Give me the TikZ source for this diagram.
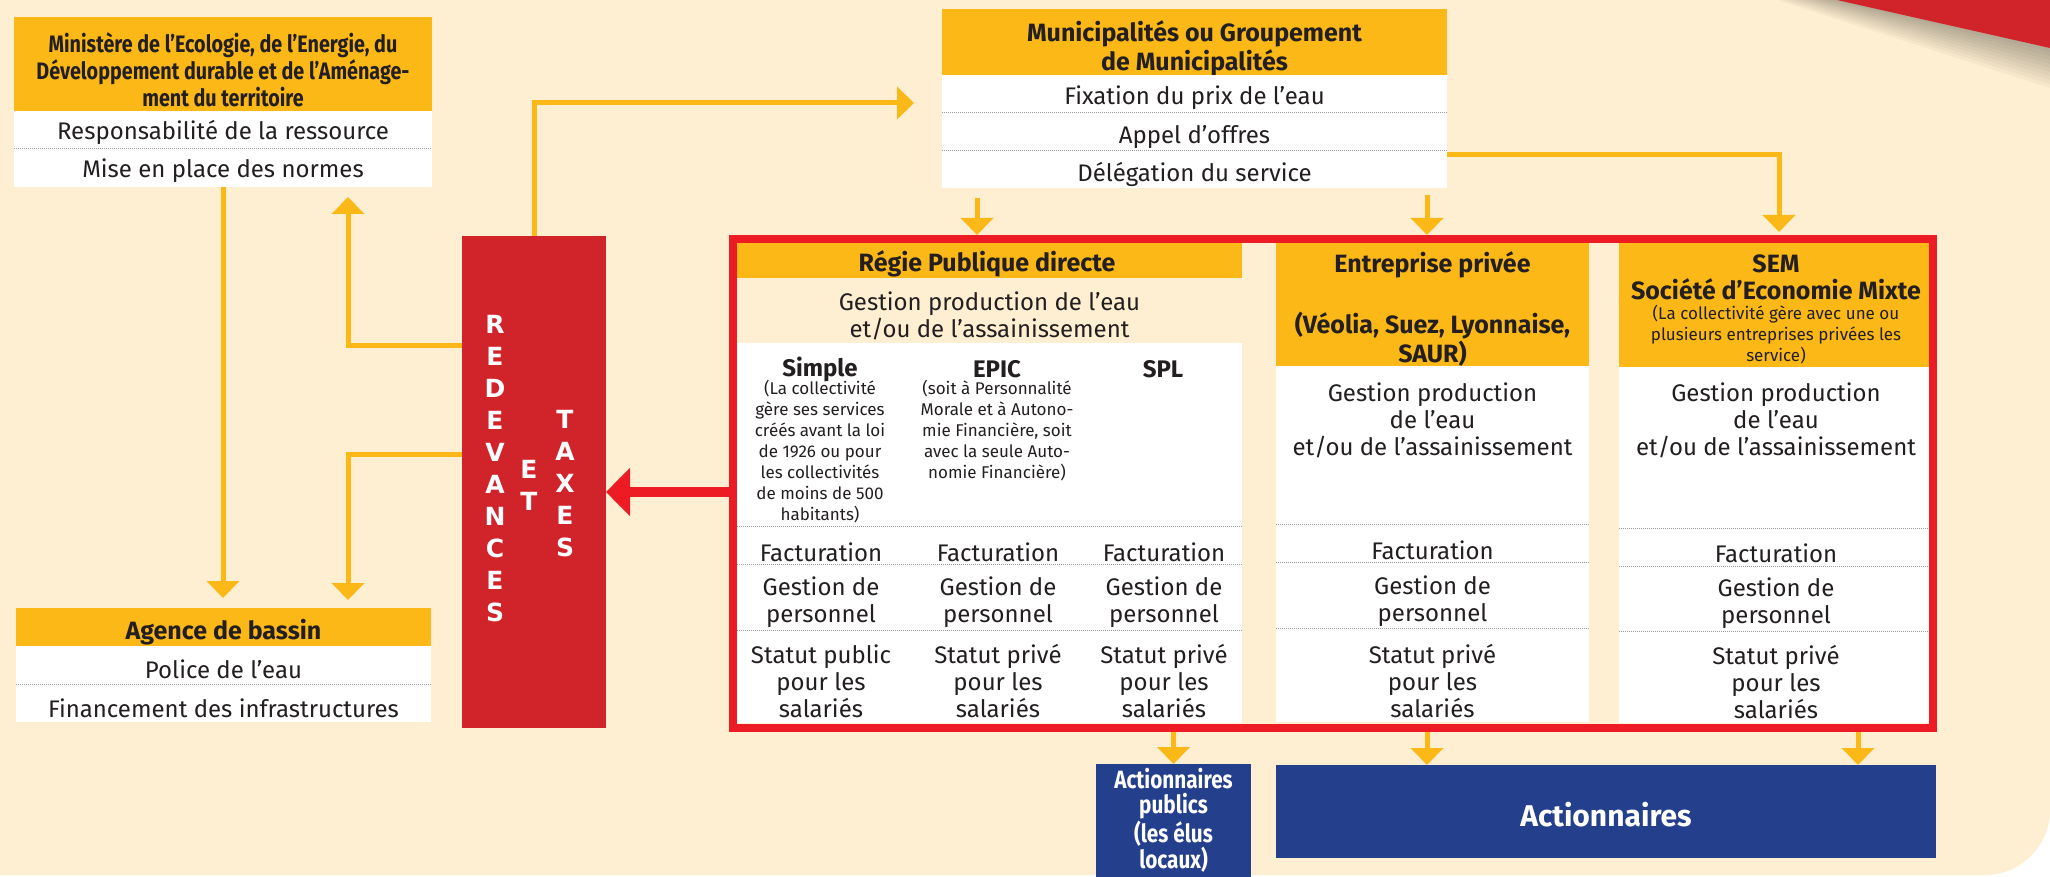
\documentclass[tikz,border=0pt]{standalone}
\usepackage{fontspec}
\setmainfont{Fira Sans}
\newfontfamily\cnd{Fira Sans}[FakeStretch=0.83]
\newfontfamily\dvs{DejaVu Sans}
\usetikzlibrary{arrows.meta}
\definecolor{bgc}{HTML}{FEEFD2}
\definecolor{org}{HTML}{FBB817}
\definecolor{redbox}{HTML}{D1232A}
\definecolor{rfr}{HTML}{ED1C24}
\definecolor{blu}{HTML}{243F8C}
\definecolor{txt}{HTML}{231F20}
\tikzset{
 obox/.style={fill=org, inner sep=0pt, outer sep=0pt},
 wbox/.style={fill=white, inner sep=0pt, outer sep=0pt},
 tx/.style={inner sep=0pt, outer sep=0pt, text=txt, align=center},
 hd/.style={tx, font=\bfseries\fontsize{12.5}{14.5}\selectfont},
 hdc/.style={tx, font=\cnd\bfseries\fontsize{11.9}{13.5}\selectfont},
 bd/.style={tx, font=\fontsize{12}{13.5}\selectfont},
 sm/.style={tx, font=\fontsize{8.5}{10.5}\selectfont},
 sep/.style={draw=gray!80, line width=0.5pt, dash pattern=on 0.5pt off 0.5pt},
 conn/.style={draw=org, line width=2.5pt, -{Triangle[length=8.5pt,width=16pt]}},
 bigarrow/.style={draw=rfr, line width=5pt, -{Triangle[length=12pt,width=23.5pt]}},
 letters/.style={inner sep=0pt, text=white, align=center, font=\dvs\bfseries\fontsize{12.5}{16}\selectfont},
 wt/.style={inner sep=0pt, text=white, align=center},
}
\begin{document}
\begin{tikzpicture}[x=0.5pt,y=-0.5pt]
\useasboundingbox (0,0) rectangle (2050,877);
\clip (0,0) rectangle (2050,877);
\fill[white] (0,0) rectangle (2050,877);
\fill[bgc, rounded corners=32.5pt] (-100,-100) rectangle (2050,875);
\foreach \k in {1,...,10}{\fill[black,opacity=0.03] (1837-6*\k,0) -- (2050,0) -- (2050,48+4*\k) -- cycle;}
\fill[redbox] (1837,0) -- (2050,0) -- (2050,48) -- cycle;

% Ministere
\node[obox, minimum width=209pt, minimum height=47pt] (minH) at (223,64) {};
\node[hdc] (minHt) at (223,70) {Ministère de l’Ecologie, de l’Energie, du\\Développement durable et de l’Aménage-\\ment du territoire};
\node[wbox, minimum width=209pt, minimum height=19pt] (minR1) at (223,130) {};
\node[wbox, minimum width=209pt, minimum height=19pt] (minR2) at (223,168) {};
\draw[sep] (minR1.south west) -- (minR1.south east);
\node[bd] (minR1t) at (223,132) {Responsabilité de la ressource};
\node[bd] (minR2t) at (223,171) {Mise en place des normes};

% Municipalites
\node[obox, minimum width=252.5pt, minimum height=33pt] (munH) at (1194.5,42) {};
\node[hd] (munHt) at (1194.5,48) {Municipalités ou Groupement\\de Municipalités};
\node[wbox, minimum width=252.5pt, minimum height=19pt] (munR1) at (1194.5,94) {};
\node[wbox, minimum width=252.5pt, minimum height=19pt] (munR2) at (1194.5,132) {};
\node[wbox, minimum width=252.5pt, minimum height=18.5pt] (munR3) at (1194.5,169.5) {};
\draw[sep] (munR1.south west) -- (munR1.south east);
\draw[sep] (munR2.south west) -- (munR2.south east);
\node[bd] (munR1t) at (1194.5,98) {Fixation du prix de l’eau};
\node[bd] (munR2t) at (1194.5,137) {Appel d’offres};
\node[bd] (munR3t) at (1194.5,174) {Délégation du service};

% Agence
\node[obox, minimum width=207.5pt, minimum height=19pt] (agH) at (223.5,627) {};
\node[hd] (agHt) at (223.5,632) {Agence de bassin};
\node[wbox, minimum width=207.5pt, minimum height=19pt] (agR1) at (223.5,665) {};
\node[wbox, minimum width=207.5pt, minimum height=19pt] (agR2) at (223.5,703) {};
\draw[sep] (agR1.south west) -- (agR1.south east);
\node[bd] (agR1t) at (223.5,669) {Police de l’eau};
\node[bd] (agR2t) at (223.5,708) {Financement des infrastructures};

% Redevances
\node[fill=redbox, inner sep=0pt, outer sep=0pt, minimum width=72pt, minimum height=246pt] (rbox) at (534,482) {};
\node[letters] (redev) at (495,469) {R\\E\\D\\E\\V\\A\\N\\C\\E\\S};
\node[letters] (et) at (529,485) {E\\T};
\node[letters] (taxes) at (565,484) {T\\A\\X\\E\\S};

% Regie
\node[obox, minimum width=252.5pt, minimum height=17.5pt] (regH) at (989.5,260.5) {};
\node[hd] (regHt) at (987,264) {Régie Publique directe};
\node[bd] (regG) at (989.5,316) {Gestion production de l’eau\\et/ou de l’assainissement};
\node[wbox, minimum width=252.5pt, minimum height=190pt] (regW) at (989.5,533) {};
\draw[sep] (regW.west |- 0,526) -- (regW.east |- 0,526);
\draw[sep] (regW.west |- 0,564) -- (regW.east |- 0,564);
\draw[sep] (regW.west |- 0,630) -- (regW.east |- 0,630);
\node[tx, font=\bfseries\fontsize{12}{14}\selectfont] (simple) at (820,369) {Simple};
\node[tx, font=\bfseries\fontsize{12}{14}\selectfont] (epic) at (997,369) {EPIC};
\node[tx, font=\bfseries\fontsize{12}{14}\selectfont] (spl) at (1163,369) {SPL};
\node[sm] (simplet) at (820,452) {(La collectivité\\gère ses services\\créés avant la loi\\de 1926 ou pour\\les collectivités\\de moins de 500\\habitants)};
\node[sm] (epict) at (997,431) {(soit à Personnalité\\Morale et à Autono-\\mie Financière, soit\\avec la seule Auto-\\nomie Financière)};
\node[bd] (f1) at (821,552) {Facturation};
\node[bd] (f2) at (998,552) {Facturation};
\node[bd] (f3) at (1164,552) {Facturation};
\node[bd] (g1) at (821,602) {Gestion de\\personnel};
\node[bd] (g2) at (998,602) {Gestion de\\personnel};
\node[bd] (g3) at (1164,602) {Gestion de\\personnel};
\node[bd] (s1) at (821,681) {Statut public\\pour les\\salariés};
\node[bd] (s2) at (998,681) {Statut privé\\pour les\\salariés};
\node[bd] (s3) at (1164,681) {Statut privé\\pour les\\salariés};

% Entreprise
\node[obox, minimum width=156.5pt, minimum height=61.5pt] (entH) at (1432.5,304.5) {};
\node[hd] (entHt) at (1432.5,309) {Entreprise privée\\[16pt](Véolia, Suez, Lyonnaise,\\SAUR)};
\node[wbox, minimum width=156.5pt, minimum height=178pt] (entW) at (1432.5,544) {};
\node[bd] (entG) at (1432.5,420) {Gestion production\\de l’eau\\et/ou de l’assainissement};
\draw[sep] (entW.west |- 0,524) -- (entW.east |- 0,524);
\draw[sep] (entW.west |- 0,562) -- (entW.east |- 0,562);
\draw[sep] (entW.west |- 0,628) -- (entW.east |- 0,628);
\node[bd] (ef) at (1432.5,550) {Facturation};
\node[bd] (eg) at (1432.5,601) {Gestion de\\personnel};
\node[bd] (es) at (1432.5,681) {Statut privé\\pour les\\salariés};

% SEM
\node[obox, minimum width=155pt, minimum height=62pt] (semH) at (1774,305) {};
\node[tx, font=\bfseries\fontsize{12.5}{13.5}\selectfont] (semHt) at (1776,277) {SEM\\Société d’Economie Mixte};
\node[sm] (semHs) at (1776,335) {(La collectivité gère avec une ou\\plusieurs entreprises privées les\\service)};
\node[wbox, minimum width=155pt, minimum height=178pt] (semW) at (1774,545) {};
\node[bd] (semG) at (1776,420) {Gestion production\\de l’eau\\et/ou de l’assainissement};
\draw[sep] (semW.west |- 0,528) -- (semW.east |- 0,528);
\draw[sep] (semW.west |- 0,566) -- (semW.east |- 0,566);
\draw[sep] (semW.west |- 0,631) -- (semW.east |- 0,631);
\node[bd] (sf) at (1776,553) {Facturation};
\node[bd] (sg) at (1776,603) {Gestion de\\personnel};
\node[bd] (ss) at (1776,682) {Statut privé\\pour les\\salariés};

% frame
\node[draw=rfr, line width=4pt, inner sep=0pt, minimum width=600pt, minimum height=244.5pt] (frame) at (1333,483.5) {};

% bottom boxes
\node[fill=blu, inner sep=0pt, outer sep=0pt, minimum width=77.5pt, minimum height=56.5pt] (apub) at (1173.5,820.5) {};
\node[wt, font=\cnd\bfseries\fontsize{12.5}{12.8}\selectfont] (apubt) at (1173.5,820) {Actionnaires\\publics\\(les élus\\locaux)};
\node[fill=blu, inner sep=0pt, outer sep=0pt, minimum width=330pt, minimum height=46.5pt] (act) at (1606,811.5) {};
\node[wt, font=\bfseries\fontsize{15}{17}\selectfont] (actt) at (1606,815) {Actionnaires};

% connectors
\coordinate (c1) at (348,345);
\coordinate (c2) at (348,454);
\coordinate (c3) at (534,103);
\draw[conn, shorten >=5pt] (minR2.south) -- (minR2.south |- agH.north);
\draw[conn, shorten >=5pt] (rbox.west |- c1) -- (c1) -- (c1 |- minR2.south);
\draw[conn, shorten >=4pt] (rbox.west |- c2) -- (c2) -- (c2 |- agH.north);
\draw[conn, shorten >=14pt] (rbox.north) -- (c3) -- (c3 -| munR1.west);
\coordinate (m1) at (977,198);
\coordinate (m2) at (1427,195);
\coordinate (m3) at (1779,155);
\draw[conn] (m1) -- (m1 |- frame.north);
\draw[conn] (m2) -- (m2 |- frame.north);
\draw[conn, shorten >=1.5pt] (m3 -| munR3.east) -- (m3) -- (m3 |- frame.north);
\coordinate (rr) at (700,492);
\draw[bigarrow] (frame.west |- rr) -- (rr -| rbox.east);
\coordinate (b2) at (1427,0);
\coordinate (b3) at (1858,0);
\draw[conn] (apub.north |- frame.south) -- (apub.north);
\draw[conn] (b2 |- frame.south) -- (b2 |- act.north);
\draw[conn] (b3 |- frame.south) -- (b3 |- act.north);
\end{tikzpicture}
\end{document}
